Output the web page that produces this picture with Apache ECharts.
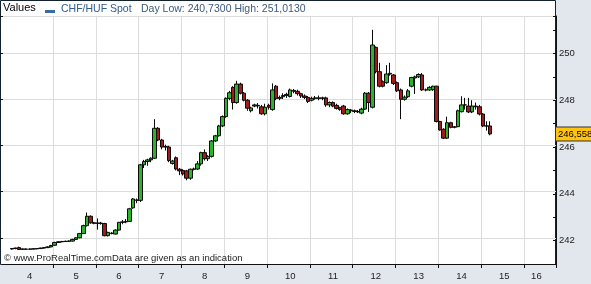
<!DOCTYPE html>
<html>
<head>
<meta charset="utf-8">
<script src="https://cdn.jsdelivr.net/npm/echarts@6/dist/echarts.min.js"></script>
<style>
html,body{margin:0;padding:0;background:#e2e7ee;}
#chart{width:591px;height:284px;}
</style>
</head>
<body>
<div id="chart"></div>
<script>
// ---- data (each candle: [open, close, low, high]) ----
const seriesName = 'CHF/HUF Spot';
const dayLow = 240.73;
const dayHigh = 251.013;
const lastPrice = 246.558;
const dayLabels = ['4','5','6','7','8','9','10','11','12','13','14','15','16'];

const day04 = [
  [241.64,241.66,241.62,241.68],[241.66,241.68,241.63,241.70],[241.70,241.62,241.60,241.74],[241.63,241.64,241.60,241.66],
  [241.64,241.63,241.61,241.66],[241.63,241.64,241.60,241.66],[241.64,241.65,241.62,241.67],[241.65,241.66,241.63,241.68],
  [241.66,241.68,241.64,241.70],[241.68,241.70,241.66,241.72],[241.70,241.73,241.68,241.76],[241.73,241.79,241.71,241.82]
];
const day05 = [
  [241.80,241.92,241.78,241.95],[241.92,241.95,241.90,241.98],[241.95,241.96,241.93,241.99],[241.96,241.97,241.94,242.00],
  [241.97,241.98,241.94,242.01],[241.98,242.05,241.96,242.08],[242.05,242.12,242.03,242.15],[242.12,242.30,242.10,242.33],
  [242.30,242.64,242.28,242.68],[242.64,243.04,242.60,243.20],[243.04,242.76,242.72,243.08],[242.76,242.74,242.70,242.80]
];
const day06 = [
  [242.74,242.75,242.47,242.95],[242.75,242.73,242.68,242.80],[242.73,242.21,242.18,242.76],[242.21,242.35,242.18,242.38],
  [242.30,242.32,242.27,242.36],[242.28,242.45,242.26,242.48],[242.45,242.78,242.43,242.80],[242.78,242.80,242.70,242.88],
  [242.80,242.82,242.74,242.92],[242.82,243.36,242.80,243.40],[243.40,243.78,243.36,243.82],[243.74,243.72,243.60,243.80]
];
const day07 = [
  [243.72,245.24,243.65,245.28],[245.24,245.38,245.10,245.45],[245.38,245.45,245.20,245.50],[245.45,245.52,245.35,245.56],
  [245.52,246.80,245.50,247.19],[246.80,246.30,246.25,246.85],[246.30,246.00,245.90,246.35],[246.00,246.02,245.85,246.10],
  [246.00,245.42,245.35,246.05],[245.30,245.40,245.25,245.45],[245.54,245.06,245.00,245.60],[245.05,244.98,244.80,245.10]
];
const day08 = [
  [245.00,244.85,244.78,245.05],[244.98,244.67,244.58,245.02],[244.67,245.05,244.60,245.08],[245.05,245.06,245.00,245.12],
  [245.06,245.28,245.02,245.40],[245.28,245.76,245.20,245.80],[245.76,245.50,245.42,245.90],[245.50,245.60,245.40,245.65],
  [245.60,246.26,245.55,246.30],[246.26,246.48,246.22,246.52],[246.48,246.90,246.45,246.95],[246.90,247.30,246.85,247.35]
];
const day09 = [
  [247.30,248.08,247.25,248.12],[248.08,248.32,248.00,248.40],[248.55,247.90,247.60,248.60],[247.90,248.69,247.85,248.83],
  [248.69,248.30,248.25,248.75],[248.30,248.00,247.95,248.35],[248.00,247.66,247.55,248.05],[247.55,247.67,247.48,247.72],
  [247.80,247.75,247.70,247.85],[247.78,247.76,247.65,247.88],[247.72,247.42,247.38,247.80],[247.42,247.70,247.35,247.85]
];
const day10 = [
  [247.78,247.70,247.60,247.85],[247.60,248.44,247.55,248.72],[248.60,248.08,248.00,248.65],[248.08,248.12,248.00,248.20],
  [248.15,248.20,248.05,248.30],[248.25,248.20,248.10,248.32],[248.16,248.44,248.12,248.50],[248.42,248.38,248.30,248.48],
  [248.38,248.28,248.20,248.45],[248.28,248.18,248.10,248.32],[248.18,248.12,248.05,248.25],[248.12,247.95,247.88,248.18]
];
const day11 = [
  [248.00,248.08,247.95,248.15],[248.08,248.10,248.02,248.18],[248.10,248.08,248.00,248.20],[248.08,248.10,248.00,248.15],
  [248.10,247.80,247.72,248.15],[247.80,247.90,247.70,247.95],[247.90,247.75,247.70,247.95],[247.78,247.65,247.60,247.85],
  [247.68,247.60,247.55,247.72],[247.75,247.42,247.38,247.80],[247.42,247.60,247.38,247.65],[247.58,247.55,247.45,247.62]
];
const day12 = [
  [247.55,247.52,247.45,247.60],[247.52,247.50,247.45,247.58],[247.45,247.62,247.40,247.68],[247.62,248.30,247.58,248.35],
  [248.30,247.90,247.50,248.35],[247.70,250.36,247.65,251.01],[250.26,249.22,249.15,250.30],[249.22,248.60,248.55,249.60],
  [248.79,248.60,248.55,248.85],[248.75,249.12,248.70,249.50],[249.12,249.15,249.05,249.60],[249.08,248.72,248.65,249.12]
];
const day13 = [
  [248.75,248.40,248.35,248.80],[248.44,248.04,247.19,248.50],[248.04,248.13,247.98,248.20],[248.15,248.40,248.10,248.48],
  [248.60,248.97,248.55,249.00],[248.95,249.00,248.27,249.05],[249.00,249.10,248.95,249.15],[249.08,248.44,248.40,249.16],
  [248.44,248.44,248.38,248.50],[248.44,248.55,248.40,248.60],[248.45,248.60,248.40,248.62],[248.60,247.09,247.05,248.62]
];
const day14 = [
  [247.09,246.73,246.70,247.12],[246.76,246.38,246.34,246.80],[246.38,247.04,246.35,247.30],[247.04,246.84,246.80,247.08],
  [246.85,246.86,246.80,246.90],[246.87,247.55,246.85,247.60],[247.51,247.80,247.48,248.17],[247.80,247.80,247.60,248.10],
  [247.75,247.50,247.45,248.10],[247.50,247.75,247.45,248.00],[247.75,247.72,247.60,247.90],[247.72,247.41,247.35,247.80]
];
const day15 = [
  [247.41,246.90,246.85,247.45],[246.90,246.90,246.70,247.10],[246.90,246.558,246.50,247.10]
];

// ---- build the category axis (12 two-hour slots per day) ----
const SLOTS_PER_DAY = 12;
const LEAD = 2;          // empty slots before day 4
const TOTAL = 155;       // slots visible on the axis
const days = [day04,day05,day06,day07,day08,day09,day10,day11,day12,day13,day14,day15];

const candleData = [];
for (let i = 0; i < LEAD; i++) candleData.push('-');
days.forEach(d => d.forEach(c => candleData.push(c)));
while (candleData.length < TOTAL) candleData.push('-');

const categories = new Array(TOTAL).fill('');
const labelSlots = {};
dayLabels.forEach((lab, k) => {
  const start = LEAD + k * SLOTS_PER_DAY;
  let slot;
  if (k === 0) slot = 7;
  else if (start + SLOTS_PER_DAY > TOTAL) slot = Math.floor((start + TOTAL) / 2) - 1;
  else slot = start + 6;
  categories[slot] = lab;
  labelSlots[slot] = true;
});
const isDayBoundary = i => i > LEAD && (i - LEAD) % SLOTS_PER_DAY === 0;

const fmt = (v, n) => v.toFixed(n).replace('.', ',');
const FONT = '"Liberation Sans", Arial, sans-serif';

const chart = echarts.init(document.getElementById('chart'), null, {renderer: 'canvas'});
chart.setOption({
  backgroundColor: '#e2e7ee',
  animation: false,
  textStyle: {fontFamily: FONT},
  graphic: [
    {type: 'rect', z: -10, shape: {x: 0.5, y: 0.5, width: 555, height: 264}, style: {fill: '#ffffff', stroke: '#14222e', lineWidth: 1}},
    {type: 'text', z: 10, style: {x: 3, y: 8, text: 'Values', font: '11px ' + FONT, fill: '#000', textVerticalAlign: 'middle'}},
    {type: 'rect', z: 10, shape: {x: 45, y: 10, width: 10, height: 3}, style: {fill: '#3a6aa5'}},
    {type: 'text', z: 10, style: {x: 61, y: 9, text: seriesName, font: '10.5px ' + FONT, fill: '#2f5b8f', textVerticalAlign: 'middle'}},
    {type: 'text', z: 10, style: {x: 141, y: 9, text: 'Day Low: ' + fmt(dayLow, 4) + ' High: ' + fmt(dayHigh, 4), font: '10.5px ' + FONT, fill: '#3d5a7a', textVerticalAlign: 'middle'}},
    {type: 'text', z: 10, style: {x: 4, y: 258, text: '\u00a9 www.ProRealTime.comData are given as an indication', font: '9.5px ' + FONT, fill: '#222', textVerticalAlign: 'middle'}}
  ],
  grid: [
    {left: 3, right: 35, top: 16, bottom: 20, show: false},
    {left: 3, right: 35, top: 16, bottom: -3.4, show: false}
  ],
  xAxis: [
    {
      gridIndex: 0, type: 'category', data: categories, boundaryGap: true,
      axisLine: {show: true, lineStyle: {color: '#111', width: 1}},
      axisTick: {show: true, length: 4, lineStyle: {color: '#111'}, interval: (i) => isDayBoundary(i)},
      axisLabel: {show: true, interval: (i) => !!labelSlots[i], fontSize: 9.5, color: '#222', margin: 7, fontFamily: FONT},
      splitLine: {show: true, interval: (i) => isDayBoundary(i), lineStyle: {color: '#dcdcdc', width: 1}}
    },
    {gridIndex: 1, type: 'value', show: false, min: 0, max: 1}
  ],
  yAxis: [
    {
      gridIndex: 0, type: 'value', position: 'right', min: 241, max: 251.6, interval: 1, scale: true,
      axisLine: {show: true, lineStyle: {color: '#111', width: 1}},
      axisTick: {show: true, inside: true, length: 3, lineStyle: {color: '#111'}},
      axisLabel: {show: true, margin: 3, fontSize: 9.5, color: '#222', fontFamily: FONT,
        formatter: v => (Math.abs(v - Math.round(v)) < 1e-6 && Math.round(v) % 2 === 0 && v >= 242 && v <= 250) ? String(Math.round(v)) : ''},
      splitLine: {show: false}
    },
    {
      gridIndex: 1, type: 'value', position: 'right', min: 240, max: 251.6, interval: 2, scale: true,
      axisLine: {show: false},
      axisTick: {show: true, inside: true, length: 5, lineStyle: {color: '#111'}},
      axisLabel: {show: false},
      splitLine: {show: true, lineStyle: {color: '#dcdcdc', width: 1}}
    }
  ],
  series: [{
    name: seriesName,
    type: 'candlestick',
    xAxisIndex: 0, yAxisIndex: 0,
    data: candleData,
    barWidth: 4,
    itemStyle: {color: '#2bb32b', color0: '#a11c1c', borderColor: '#0a0a0a', borderColor0: '#0a0a0a', borderWidth: 1},
    markLine: {
      silent: true, symbol: ['none', 'none'], precision: 3,
      lineStyle: {color: 'rgba(0,0,0,0)', width: 0, type: 'solid'},
      data: [{yAxis: lastPrice}],
      label: {show: true, position: 'end', distance: 0, formatter: p => fmt(Number(p.value), 3),
        backgroundColor: '#ffc20e', borderColor: '#333', borderWidth: 1, padding: [2, 3, 1, 2],
        color: '#000', fontSize: 9.5, fontFamily: FONT, opacity: 1}
    }
  }]
});
</script>
</body>
</html>
